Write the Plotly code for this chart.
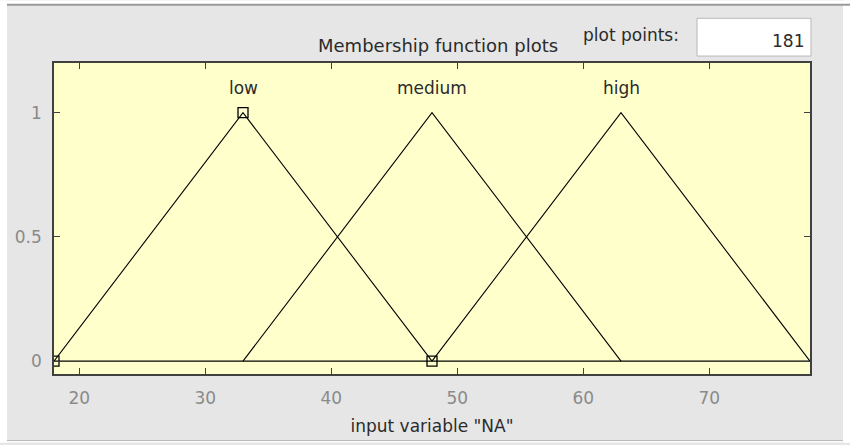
import plotly.graph_objects as go

# Membership functions of input variable "NA" (triangular: a, peak, c)
mf_names = ["low", "medium", "high"]
mf_params = [[18, 33, 48], [33, 48, 63], [48, 63, 78]]
mf_shape = [0, 1, 0]
x_range = [18, 78]
y_range = [-0.052, 1.2]
x_ticks = [20, 30, 40, 50, 60, 70]
y_ticks = [0, 0.5, 1]
y_ticklabels = ["0", "0.5", "1"]
plot_points = 181
selected = 0  # index of the highlighted membership function

W, H = 850, 445
L, R, T, B = 54, 810, 63, 376
pw, ph = R - L, B - T


def px(x):
    return (x - L) / pw


def py(y):
    return (B - y) / ph


FONT = "DejaVu Sans, Liberation Sans, Arial, sans-serif"
PANEL = "#e6e6e6"
DARK = "#2b2b2b"

fig = go.Figure()

# baseline across the whole universe of discourse
fig.add_trace(go.Scatter(x=x_range, y=[0, 0], mode="lines",
                         line=dict(color="black", width=1.4),
                         hoverinfo="skip", showlegend=False))

for i, (name, p) in enumerate(zip(mf_names, mf_params)):
    fig.add_trace(go.Scatter(x=p, y=mf_shape, mode="lines",
                             line=dict(color="black", width=1.1),
                             name=name, showlegend=False))
    if i == selected:
        fig.add_trace(go.Scatter(x=p, y=mf_shape, mode="markers",
                                 marker=dict(symbol="square-open", size=10,
                                             color="black",
                                             line=dict(width=1.3, color="black")),
                                 hoverinfo="skip", showlegend=False))
    fig.add_annotation(x=p[1], y=1.1, text=name, showarrow=False,
                       font=dict(family=FONT, size=17, color=DARK))

white_margin = dict(type="rect", xref="paper", yref="paper",
                    fillcolor="white", line=dict(width=0), layer="below")
shapes = [
    # white surround outside the gray panel
    dict(white_margin, x0=px(0), x1=px(7), y0=py(H), y1=py(0)),
    dict(white_margin, x0=px(843), x1=px(W), y0=py(H), y1=py(0)),
    dict(white_margin, x0=px(0), x1=px(W), y0=py(4), y1=py(0)),
    dict(white_margin, x0=px(0), x1=px(W), y0=py(H), y1=py(443.5)),
    dict(type="line", xref="paper", yref="paper",
         x0=px(7), x1=px(W), y0=py(4.5), y1=py(4.5),
         line=dict(color="#9a9a9a", width=2)),
    dict(type="line", xref="paper", yref="paper",
         x0=px(7), x1=px(843), y0=py(443), y1=py(443),
         line=dict(color="#b8b8b8", width=1)),
    # plot points edit box
    dict(type="rect", xref="paper", yref="paper",
         x0=px(697), x1=px(811), y0=py(56), y1=py(18),
         fillcolor="white", line=dict(color="#b8b8b8", width=1)),
]

annotations = [
    dict(x=px(438), y=py(45), xanchor="center", size=18,
         text="Membership function plots"),
    dict(x=px(631), y=py(35), xanchor="center", size=17, text="plot points:"),
    dict(x=px(806), y=py(41), xanchor="right", size=17, text=str(plot_points)),
]
for a in annotations:
    size = a.pop("size")
    fig.add_annotation(xref="paper", yref="paper", yanchor="middle",
                       showarrow=False,
                       font=dict(family=FONT, size=size, color=DARK), **a)

fig.update_layout(
    width=W, height=H,
    margin=dict(l=L, r=W - R, t=T, b=H - B),
    paper_bgcolor=PANEL,
    plot_bgcolor="#ffffcc",
    shapes=shapes,
    font=dict(family=FONT, size=17, color="#808080"),
)
fig.update_xaxes(range=x_range, tickvals=x_ticks, ticks="inside", ticklen=6,
                 tickcolor="#404040", showline=True, linecolor="#404040",
                 linewidth=1.5, mirror="allticks", showgrid=False, zeroline=False,
                 ticklabelstandoff=8,
                 tickfont=dict(size=17, color="#8a8a8a"),
                 title=dict(text='input variable "NA"', standoff=13,
                            font=dict(family=FONT, size=17, color=DARK)))
fig.update_yaxes(range=y_range, tickvals=y_ticks, ticktext=y_ticklabels,
                 ticks="inside", ticklen=6, tickcolor="#404040", showline=True,
                 linecolor="#404040", linewidth=1.5, mirror="allticks",
                 showgrid=False, zeroline=False, ticklabelstandoff=7,
                 tickfont=dict(size=17, color="#8a8a8a"))

fig.write_html("out.html")
